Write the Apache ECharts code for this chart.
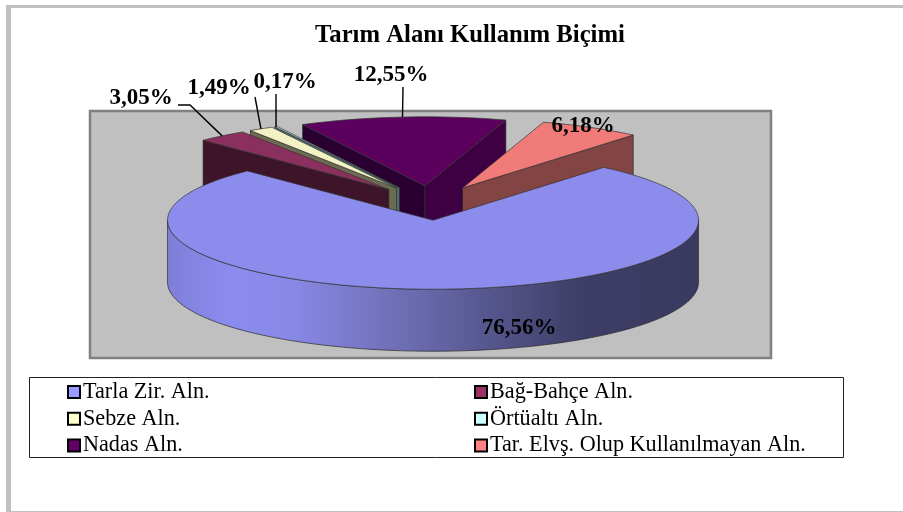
<!DOCTYPE html>
<html>
<head>
<meta charset="utf-8">
<title>Tarım Alanı Kullanım Biçimi</title>
<script src="https://cdn.jsdelivr.net/npm/echarts@6/dist/echarts.min.js"></script>
<style>
  html, body { margin: 0; padding: 0; background: #fff; }
  #main { width: 903px; height: 512px; }
</style>
</head>
<body>
<div id="main"></div>
<script>
// chart data
const categories = ['Tarla Zir. Aln.', 'Bağ-Bahçe Aln.', 'Sebze Aln.', 'Örtüaltı Aln.', 'Nadas Aln.', 'Tar. Elvş. Olup Kullanılmayan Aln.'];
const values = [76.56, 3.05, 1.49, 0.17, 12.55, 6.18];

// colours per slice
const legendColors = ['#9999ff', '#993366', '#ffffcc', '#ccffff', '#660066', '#ff8080'];
const topColors = ['#8c8ced', '#8b2f5e', '#f2f2c4', '#bce6e6', '#5c005e', '#f07b78'];
const wallColors = ['#3c3c64', '#3e1428', '#6c6c52', '#527070', '#3e0042', '#834543'];
const faceColors = ['#3c3c64', '#3e1428', '#6c6c52', '#527070', '#2a0030', '#834543'];

// pie geometry (the tilted ellipse)
const FONT = '"Liberation Serif", "Times New Roman", serif';
const cx = 430.5, cy = 203, rx = 265.5, ry = 69, depth = 62, explode = 0.25;
const startAngle = -50;   // clockwise from 3 o'clock

// label centre and leader start for each slice
const labelPos = [[519, 328], [141, 98], [219, 88], [285, 82], [391, 75], [583, 126]];
const leaderStart = [null, [[178, 105], [190, 105]], [[255, 97]], [[276, 94]], [[403, 87]], null];

// back slices first, big one covers the rest
const paintOrder = [4, 3, 2, 1, 5, 0];

const total = values.reduce((a, b) => a + b, 0);

function sliceAngles(index) {
    let from = startAngle;
    for (let i = 0; i < index; i++) from += values[i] / total * 360;
    return [from, from + values[index] / total * 360];
}

function point(ox, oy, deg, dy) {
    const a = deg * Math.PI / 180;
    return [ox + rx * Math.cos(a), oy + ry * Math.sin(a) + (dy || 0)];
}

function arcPoints(ox, oy, from, to, dy) {
    const pts = [];
    const steps = Math.max(2, Math.ceil(Math.abs(to - from) / 2));
    for (let i = 0; i <= steps; i++) {
        pts.push(point(ox, oy, from + (to - from) * i / steps, dy));
    }
    return pts;
}

function poly(points, fill, stroke) {
    return {
        type: 'polygon',
        shape: { points: points },
        style: { fill: fill, stroke: stroke || '#2a2a2a', lineWidth: 0.7 }
    };
}

function isFront(deg) {
    return Math.sin(deg * Math.PI / 180) > 0;
}

function renderSlice(params, api, index) {
    const value = api.value(0);
    const angles = sliceAngles(index);
    const from = angles[0], to = angles[1];
    const mid = (from + to) / 2;
    const a = mid * Math.PI / 180;
    const ox = cx + explode * rx * Math.cos(a);
    const oy = cy + explode * ry * Math.sin(a);
    const children = [];

    // cut faces, only the ones turned to the viewer
    if (isFront(from - 90)) {
        const p = point(ox, oy, from);
        children.push(poly([[ox, oy], p, [p[0], p[1] + depth], [ox, oy + depth]], faceColors[index]));
    }
    if (isFront(to + 90)) {
        const p = point(ox, oy, to);
        children.push(poly([[ox, oy], p, [p[0], p[1] + depth], [ox, oy + depth]], wallColors[index]));
    }

    // outer wall of the front part of the rim
    const wallFrom = Math.max(from, 0), wallTo = Math.min(to, 180);
    if (wallTo > wallFrom) {
        const upper = arcPoints(ox, oy, wallFrom, wallTo, 0);
        const lower = arcPoints(ox, oy, wallTo, wallFrom, depth);
        const fill = index === 0
            ? new echarts.graphic.LinearGradient(1, 0, 0, 0, [
                { offset: 0, color: '#3a3a60' },
                { offset: 0.22, color: '#3d3d66' },
                { offset: 0.42, color: '#5a5a94' },
                { offset: 0.62, color: '#7676c2' },
                { offset: 0.76, color: '#8888e6' },
                { offset: 0.88, color: '#8c8cf0' },
                { offset: 1, color: '#7e7ed8' }
            ])
            : wallColors[index];
        children.push(poly(upper.concat(lower), fill));
    }

    // top of the slice
    children.push(poly([[ox, oy]].concat(arcPoints(ox, oy, from, to, 0)), topColors[index], '#333'));

    // leader line from the label to the rim
    if (leaderStart[index]) {
        children.push({
            type: 'polyline',
            shape: { points: leaderStart[index].concat([point(ox, oy, mid)]) },
            style: { fill: null, stroke: '#000', lineWidth: 1.4 }
        });
    }

    children.push({
        type: 'text',
        z2: 10,
        style: {
            text: value.toFixed(2).replace('.', ',') + '%',
            x: labelPos[index][0],
            y: labelPos[index][1],
            align: 'center',
            verticalAlign: 'middle',
            fill: '#000',
            font: 'bold 23px ' + FONT
        }
    });

    return { type: 'group', children: children };
}

const series = categories.map((name, i) => ({
    name: name,
    type: 'custom',
    coordinateSystem: 'none',
    silent: true,
    z: 2 + paintOrder.indexOf(i),
    itemStyle: { color: legendColors[i] },
    data: [[values[i]]],
    renderItem: (params, api) => renderSlice(params, api, i)
}));

function legendColumn(left, names) {
    return {
        orient: 'vertical',
        left: left,
        top: 380,
        padding: 0,
        itemWidth: 12,
        itemHeight: 12,
        itemGap: 2.7,
        icon: 'rect',
        selectedMode: false,
        data: names,
        itemStyle: { borderColor: '#000', borderWidth: 2 },
        textStyle: { fontFamily: FONT, fontSize: 22.2, color: '#000', padding: [0, 0, 0, -2], lineHeight: 24 }
    };
}

const option = {
    animation: false,
    backgroundColor: '#fff',
    title: {
        text: 'Tarım Alanı Kullanım Biçimi',
        left: 465,
        top: 18,
        textAlign: 'center',
        textStyle: { fontFamily: FONT, fontSize: 24.7, fontWeight: 'bold', color: '#000' }
    },
    legend: [
        legendColumn(67, [categories[0], categories[2], categories[4]]),
        legendColumn(474, [categories[1], categories[3], categories[5]])
    ],
    graphic: [
        // page frame
        { type: 'rect', shape: { x: 6, y: 5, width: 897, height: 3 }, style: { fill: '#c0c0c0' }, silent: true },
        { type: 'rect', shape: { x: 6, y: 5, width: 5, height: 507 }, style: { fill: '#c0c0c0' }, silent: true },
        { type: 'rect', shape: { x: 6, y: 511, width: 897, height: 1 }, style: { fill: '#c0c0c0' }, silent: true },
        // plot area
        { type: 'rect', shape: { x: 90, y: 111, width: 681, height: 247 }, style: { fill: '#c0c0c0', stroke: '#808080', lineWidth: 2.5 }, silent: true },
        // legend frame
        { type: 'rect', shape: { x: 29.5, y: 377.5, width: 814, height: 80 }, style: { fill: '#fff', stroke: '#222', lineWidth: 1 }, silent: true }
    ],
    series: series
};

let plot = echarts.init(document.querySelector('#main'), null, { renderer: 'canvas' });
plot.setOption(option);
</script>
</body>
</html>
